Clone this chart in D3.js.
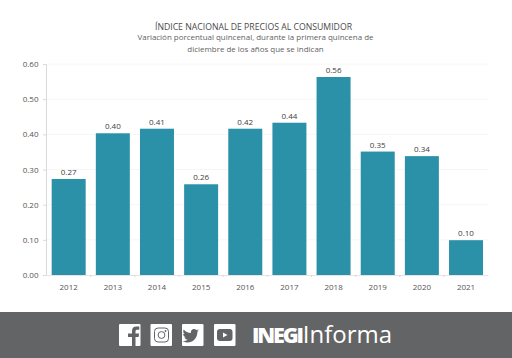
<!DOCTYPE html>
<html>
<head>
<meta charset="utf-8">
<script src="https://d3js.org/d3.v7.min.js"></script>
<style>
body { margin: 0; background: #fff; }
text { font-family: "Open Sans", sans-serif; }
</style>
</head>
<body>
<script>
var width = 512, height = 358;

var years = ["2012","2013","2014","2015","2016","2017","2018","2019","2020","2021"];
var values = [0.27,0.40,0.41,0.26,0.42,0.44,0.56,0.35,0.34,0.10];
// bar heights are a bit off the rounded labels in the original
var heights = [0.273,0.403,0.416,0.258,0.416,0.433,0.563,0.351,0.338,0.099];
var yTicks = [0,0.1,0.2,0.3,0.4,0.5,0.6];
var subtitle = ["Variación porcentual quincenal, durante la primera quincena de", "diciembre de los años que se indican"];

var svg = d3.select('body').append('svg').attr('width', width).attr('height', height).style('display', 'block');

var x = d3.scaleBand().domain(years).range([46.6, 488.1]).paddingInner(0.23).paddingOuter(0.115);
var y = d3.scaleLinear().domain([0, 0.6]).range([275, 64]);

// titles
svg.append('text').attr('x', 253.5).attr('y', 29.5).attr('text-anchor', 'middle')
  .attr('font-size', 8.7).attr('fill', '#4a4a4a').text('ÍNDICE NACIONAL DE PRECIOS AL CONSUMIDOR');
svg.selectAll('.sub').data(subtitle).join('text').attr('class', 'sub')
  .attr('x', 255.5).attr('y', function(d, i) { return 39.5 + i * 12.5 })
  .attr('text-anchor', 'middle').attr('font-size', 7.95).attr('fill', '#5f5f5f').text(function(d) { return d });

// gridlines
svg.selectAll('.grid').data(yTicks.slice(1)).join('line').attr('class', 'grid')
  .attr('x1', 46).attr('x2', 488)
  .attr('y1', function(d) { return y(d) }).attr('y2', function(d) { return y(d) })
  .attr('stroke', '#f6f6f6');

// axes
var yAxis = d3.axisLeft(y).tickValues(yTicks).tickFormat(d3.format('.2f')).tickSize(3).tickPadding(4.5);
var gy = svg.append('g').attr('transform', 'translate(46,0)').call(yAxis);
gy.select('.domain').attr('stroke', '#d9d9d9');
gy.selectAll('.tick line').attr('stroke', '#d9d9d9');
gy.selectAll('text').attr('font-size', 8).attr('fill', '#555').style('font-family', '"Open Sans", sans-serif');

var xAxis = d3.axisBottom(x).tickSize(0).tickPadding(9);
var gx = svg.append('g').attr('transform', 'translate(0,275)').call(xAxis);
gx.select('.domain').attr('stroke', '#e4e4e4');
gx.selectAll('text').attr('font-size', 8).attr('fill', '#555').style('font-family', '"Open Sans", sans-serif');

// small marks between the categories under the baseline
svg.selectAll('.sep').data(years.slice(1)).join('line').attr('class', 'sep')
  .attr('x1', function(d) { return x(d) - x.step() * 0.115 })
  .attr('x2', function(d) { return x(d) - x.step() * 0.115 })
  .attr('y1', 275).attr('y2', 277)
  .attr('stroke', '#e0d8d4');

// bars
svg.selectAll('.bar').data(years).join('rect').attr('class', 'bar')
  .attr('x', function(d) { return x(d) })
  .attr('width', x.bandwidth())
  .attr('y', function(d, i) { return y(heights[i]) })
  .attr('height', function(d, i) { return y(0) - y(heights[i]) })
  .attr('fill', '#2b91a8');

svg.selectAll('.lab').data(years).join('text').attr('class', 'lab')
  .attr('x', function(d) { return x(d) + x.bandwidth() / 2 })
  .attr('y', function(d, i) { return y(heights[i]) - 4 })
  .attr('text-anchor', 'middle').attr('font-size', 8).attr('fill', '#404040')
  .text(function(d, i) { return d3.format('.2f')(values[i]) });

// footer band
svg.append('rect').attr('x', 0).attr('y', 312).attr('width', width).attr('height', 46).attr('fill', '#636466');

var iconX = [119, 150.5, 182, 214];
svg.selectAll('.icon').data(iconX).join('rect').attr('class', 'icon')
  .attr('x', function(d) { return d }).attr('y', 324).attr('width', 21.5).attr('height', 22).attr('rx', 1).attr('fill', '#fff');

var dark = '#636466';
// facebook
svg.append('path').attr('fill', dark)
  .attr('d', 'M132 346v-9h-4v-3.6h4v-2.6c0-3 1.8-4.4 4.3-4.4h3v3.3h-2c-1.300 0-1.800.6-1.800 1.700v2h3.600l-.5 3.600h-3.100v9z');
// instagram
svg.append('rect').attr('x', 154.5).attr('y', 328).attr('width', 14).attr('height', 14).attr('rx', 3.5).attr('fill', 'none').attr('stroke', dark).attr('stroke-width', 1);
svg.append('circle').attr('cx', 161.5).attr('cy', 335).attr('r', 3.4).attr('fill', 'none').attr('stroke', dark).attr('stroke-width', 1);
svg.append('circle').attr('cx', 165.5).attr('cy', 331).attr('r', 0.9).attr('fill', dark);
// twitter
svg.append('path').attr('fill', dark)
  .attr('d', 'M199 330.500c-.7.3-1.300.5-2 .6.7-.5 1.300-1.100 1.600-1.900-.7.4-1.400.7-2.200.9-1.500-1.600-4.100-1.300-5.200.6-.4.8-.5 1.600-.3 2.400-2.900-.1-5.500-1.500-7.200-3.600-.9 1.500-.5 3.500 1 4.600-.6 0-1.100-.2-1.600-.4 0 1.700 1.200 3.100 2.800 3.500-.5.1-1 .1-1.500 0 .5 1.400 1.800 2.300 3.300 2.400-1.500 1.200-3.300 1.700-5.200 1.500 5.700 3.500 14.600.9 15-9.500.7-.5 1.300-1.100 1.800-1.900z');
// youtube
svg.append('rect').attr('x', 217).attr('y', 329).attr('width', 15.5).attr('height', 12).attr('rx', 3).attr('fill', dark);
svg.append('path').attr('fill', '#fff').attr('d', 'M223 332.500l4.500 2.500-4.500 2.500z');

// logo
var logo = svg.append('text').attr('x', 252).attr('y', 343).attr('font-size', 24).attr('fill', '#fff');
logo.append('tspan').attr('font-weight', 800).attr('font-size', 21.5).attr('textLength', 52).text('INEGI');
logo.append('tspan').attr('dx', 1).attr('font-weight', 400).text('Informa');
</script>
</body>
</html>
